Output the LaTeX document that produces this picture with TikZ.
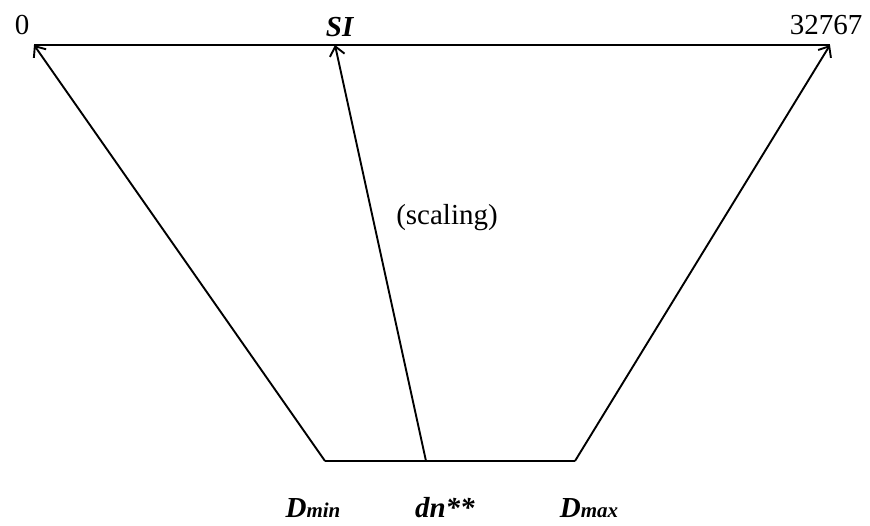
\documentclass[tikz,border=0pt]{standalone}
\usepackage{fontspec}
\setmainfont{Liberation Serif}
\usetikzlibrary{arrows.meta}
\begin{document}
\begin{tikzpicture}[x=1pt,y=-1pt,
  lbl/.style={inner sep=0pt,font=\fontsize{29}{32}\selectfont},
  arr/.style={line width=1.9pt,-{Straight Barb[length=9pt,width=15pt,line width=1.9pt]}},
  axis/.style={line width=2.5pt}]
\useasboundingbox (0,0) rectangle (870,525);
\coordinate (L) at (34,45);
\coordinate (S) at (335,45);
\coordinate (R) at (830,45);
\coordinate (BL) at (325,461);
\coordinate (BM) at (426,461);
\coordinate (BR) at (575,461);
\draw[axis] (L) -- (R);
\draw[axis] (BL) -- (BR);
\draw[arr] (BL) -- (L);
\draw[arr] (BM) -- (S);
\draw[arr] (BR) -- (R);
\node[lbl] (n0) at (22,25) {0};
\node[lbl] (nsi) at (340,27) {\textbf{\textit{SI}}};
\node[lbl] (nmax) at (826,25) {32767};
\node[lbl] (nsc) at (447,218) {(scaling)};
\node[lbl,anchor=base] (ndmin) at (313,517) {\textbf{\textit{D}}{\fontsize{21}{23}\selectfont\textbf{\textit{min}}}};
\node[lbl,anchor=base] (ndn) at (445,517) {\textbf{\textit{dn**}}};
\node[lbl,anchor=base] (ndmax) at (589,517) {\textbf{\textit{D}}{\fontsize{21}{23}\selectfont\textbf{\textit{max}}}};
\end{tikzpicture}
\end{document}
